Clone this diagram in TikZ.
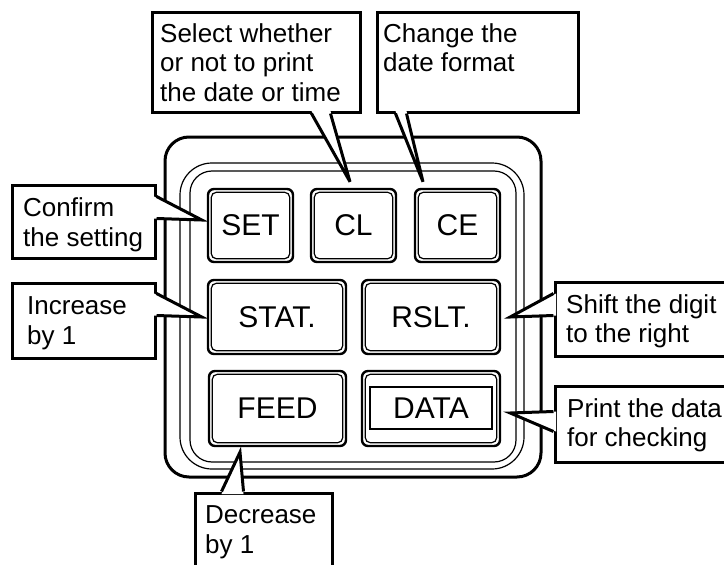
\documentclass[tikz,border=0pt]{standalone}
\usepackage{fontspec}
\setmainfont{Liberation Sans}
\begin{document}
\begin{tikzpicture}[x=1pt,y=-1pt,
  thickline/.style={line width=3pt},
  thinline/.style={line width=1.2pt},
  callbox/.style={draw, line width=3pt, fill=white, inner sep=0pt},
  calltext/.style={font=\fontsize{26}{29.5}\selectfont, align=left, anchor=base west, inner sep=0pt},
  keybox/.style={draw, line width=2.4pt, rounded corners=6pt, inner sep=0pt, font=\fontsize{30}{32}\selectfont},
  keyinner/.style={line width=1.2pt, rounded corners=5pt},
  ptr/.style={line width=3pt, miter limit=5},
]
\useasboundingbox (0,0) rectangle (724,565);
\clip (0,0) rectangle (724,565);

% panel
\draw[thickline, rounded corners=24pt] (165,137) rectangle (541,477);
\draw[thinline, rounded corners=32pt] (180,163) rectangle (524,469);
\draw[thinline, rounded corners=22pt] (190,171) rectangle (516,462);

% keys
\node[keybox, minimum width=85pt, minimum height=73pt] (set) at (250.5,225.5) {SET};
\node[keybox, minimum width=85pt, minimum height=73pt] (cl) at (353.5,225.5) {CL};
\node[keybox, minimum width=85pt, minimum height=73pt] (ce) at (457.5,225.5) {CE};
\node[keybox, minimum width=138pt, minimum height=74pt] (stat) at (277,317) {STAT.};
\node[keybox, minimum width=138pt, minimum height=74pt] (rslt) at (431,317) {RSLT.};
\node[keybox, minimum width=137pt, minimum height=75pt] (feed) at (277.5,408.5) {FEED};
\node[keybox, minimum width=138pt, minimum height=75pt] (data) at (431,408.5) {};
\foreach \k in {set,cl,ce,stat,rslt,feed,data}
  \draw[keyinner] ([shift={(4.5,4.5)}]\k.north west) rectangle ([shift={(-4.5,-4.5)}]\k.south east);
\node[draw, line width=2.2pt, inner sep=0pt, minimum width=122pt, minimum height=42pt,
      font=\fontsize{30}{32}\selectfont] (datalbl) at (431,408) {DATA};

% pointer tips
\coordinate (tsel) at ([shift={(-3.5,-6)}]cl.north);
\coordinate (tchg) at ([shift={(-34.5,-6)}]ce.north);
\coordinate (tconf) at ([shift={(-5,-5.5)}]set.west);
\coordinate (tinc) at ([shift={(-5,0)}]stat.west);
\coordinate (tshift) at ([shift={(9,0)}]rslt.east);
\coordinate (tprint) at ([shift={(9,4.5)}]data.east);
\coordinate (tdec) at ([shift={(-37.5,5)}]feed.south);

% callout boxes
\node[callbox, minimum width=208pt, minimum height=100pt] (selbox) at (256,62) {};
\node[callbox, minimum width=201pt, minimum height=100pt] (chgbox) at (477.5,62) {};
\node[callbox, minimum width=143pt, minimum height=73pt] (confbox) at (83.5,221.5) {};
\node[callbox, minimum width=143pt, minimum height=75pt] (incbox) at (83.5,320.5) {};
\node[callbox, minimum width=190pt, minimum height=74pt] (shiftbox) at (650,319) {};
\node[callbox, minimum width=190pt, minimum height=76pt] (printbox) at (650,424) {};
\node[callbox, minimum width=137pt, minimum height=92pt] (decbox) at (263.5,539) {};

% pointers
\fill[white] ([shift={(161,-2.5)}]selbox.south west) -- (tsel) -- ([shift={(180,-2.5)}]selbox.south west) -- cycle;
\draw[ptr] ([shift={(161,0)}]selbox.south west) -- (tsel) -- ([shift={(180,0)}]selbox.south west);
\fill[white] ([shift={(20,-2.5)}]chgbox.south west) -- (tchg) -- ([shift={(31,-2.5)}]chgbox.south west) -- cycle;
\draw[ptr] ([shift={(20,0)}]chgbox.south west) -- (tchg) -- ([shift={(31,0)}]chgbox.south west);
\fill[white] ([shift={(-2.5,13)}]confbox.north east) -- (tconf) -- ([shift={(-2.5,35)}]confbox.north east) -- cycle;
\draw[ptr] ([shift={(0,13)}]confbox.north east) -- (tconf) -- ([shift={(0,35)}]confbox.north east);
\fill[white] ([shift={(-2.5,12)}]incbox.north east) -- (tinc) -- ([shift={(-2.5,34)}]incbox.north east) -- cycle;
\draw[ptr] ([shift={(0,12)}]incbox.north east) -- (tinc) -- ([shift={(0,34)}]incbox.north east);
\fill[white] ([shift={(2.5,13)}]shiftbox.north west) -- (tshift) -- ([shift={(2.5,35)}]shiftbox.north west) -- cycle;
\draw[ptr] ([shift={(0,13)}]shiftbox.north west) -- (tshift) -- ([shift={(0,35)}]shiftbox.north west);
\fill[white] ([shift={(2.5,27)}]printbox.north west) -- (tprint) -- ([shift={(2.5,47)}]printbox.north west) -- cycle;
\draw[ptr] ([shift={(0,27)}]printbox.north west) -- (tprint) -- ([shift={(0,47)}]printbox.north west);
\fill[white] ([shift={(28,2.5)}]decbox.north west) -- (tdec) -- ([shift={(50,2.5)}]decbox.north west) -- cycle;
\draw[ptr] ([shift={(28,0)}]decbox.north west) -- (tdec) -- ([shift={(50,0)}]decbox.north west);

% callout texts (anchored at the baseline of the last line)
\node[calltext] (seltxt) at (160,101) {Select whether\\or not to print\\the date or time};
\node[calltext] (chgtxt) at (383,71.5) {Change the\\date format};
\node[calltext] (conftxt) at (23,246) {Confirm\\the setting};
\node[calltext] (inctxt) at (27,344) {Increase\\by 1};
\node[calltext] (shifttxt) at (566,342.5) {Shift the digit\\to the right};
\node[calltext] (printtxt) at (567,446.5) {Print the data\\for checking};
\node[calltext] (dectxt) at (205,553) {Decrease\\by 1};
\end{tikzpicture}
\end{document}
